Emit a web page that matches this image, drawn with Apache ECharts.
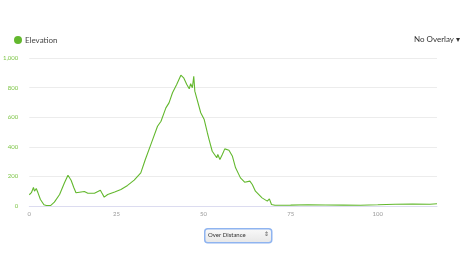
<!DOCTYPE html>
<html>
<head>
<meta charset="utf-8">
<script src="https://cdn.jsdelivr.net/npm/echarts@6/dist/echarts.min.js"></script>
<style>
html,body{margin:0;padding:0;background:#fff;}
#chart{width:470px;height:262px;}
</style>
</head>
<body>
<div id="chart"></div>
<script>
const seriesName = 'Elevation';
const distance = [0,0.6,1.2,1.5,2,2.5,3.2,4.2,4.9,6.1,7.2,8.7,10.1,11.1,11.3,12,12.8,13.4,14.4,15.8,16.8,18.7,20.4,20.8,21.5,22.5,24.5,26.3,28.2,30.1,32,33.3,34.9,36.8,37.8,39.2,40.1,41.1,42.3,43.5,44.3,45.2,45.9,46.3,46.8,47.2,47.5,47.8,49.2,50.2,51.1,51.6,52.5,53.8,54.1,54.7,55.4,56.1,57.3,58.3,59.2,60.6,61.8,63.3,64,64.9,66.8,68.3,68.9,69.5,70.5,75,80,85,90,95,100,105,110,115,117];
const elevation = [76,90,125,100,118,89,44,8,3,3,26,78,157,208,201,174,123,89,93,98,86,86,107,89,60,78,95,112,139,175,224,314,416,539,573,663,697,765,821,884,866,821,792,826,799,877,776,770,630,584,495,449,370,326,348,314,348,386,377,336,258,190,161,168,145,100,55,33,48,10,5,6,8,7,6,5,8,12,13,12,15];
const yTicks = [0,200,400,600,800,1000];
const xTicks = [0,25,50,75,100];
const overlayLabel = 'No Overlay';
const selectLabel = 'Over Distance';

const chart = echarts.init(document.getElementById('chart'), null, {renderer:'canvas'});
const green = '#63b82e';
const font = 'Lato, "Open Sans", sans-serif';
chart.setOption({
  animation:false,
  grid:{left:28,right:33,top:58,bottom:56,containLabel:false},
  legend:{
    show:true, left:9, top:31, itemWidth:8, itemHeight:8, icon:'circle', itemGap:4,
    textStyle:{fontSize:8,color:'#444',fontFamily:font,padding:[0,0,0,-2]},
    data:[seriesName]
  },
  xAxis:{
    type:'value', min:0, max:117, interval:25,
    axisLine:{show:true,lineStyle:{color:'#dcdcf0',width:1}},
    axisTick:{show:false},
    splitLine:{show:false},
    axisLabel:{fontSize:6,color:'#999',fontFamily:font,margin:5,
      showMaxLabel:false,
      formatter:v=>xTicks.includes(v)?String(v):''}
  },
  yAxis:{
    type:'value', min:0, max:1000, interval:200,
    axisLine:{show:false}, axisTick:{show:false},
    splitLine:{show:true,lineStyle:{color:'#ececec',width:1}},
    axisLabel:{fontSize:6,color:'#7cc444',fontFamily:font,margin:11,
      formatter:v=>yTicks.includes(v)?v.toLocaleString('en-US'):''}
  },
  series:[{
    name:seriesName, type:'line', showSymbol:false, smooth:false,
    data:distance.map((d,i)=>[d,elevation[i]]),
    itemStyle:{color:green},
    lineStyle:{color:green,width:1.1}
  }],
  graphic:[
    {type:'text', right:10, top:35, style:{text:overlayLabel+' \u25BE', fontSize:8, fill:'#333', fontFamily:font}},
    {type:'rect', left:204, top:228, shape:{width:67,height:14,r:3},
      style:{fill:new echarts.graphic.LinearGradient(0,0,0,1,[{offset:0,color:'#fafafa'},{offset:1,color:'#e6e6e6'}]),stroke:'#8fb4f0',lineWidth:1.5}},
    {type:'text', left:208, top:232, style:{text:selectLabel, fontSize:6, fill:'#333', fontFamily:font}},
    {type:'text', left:264, top:231.5, style:{text:'\u21D5', fontSize:6, fill:'#555', fontFamily:font}}
  ]
});
</script>
</body>
</html>
